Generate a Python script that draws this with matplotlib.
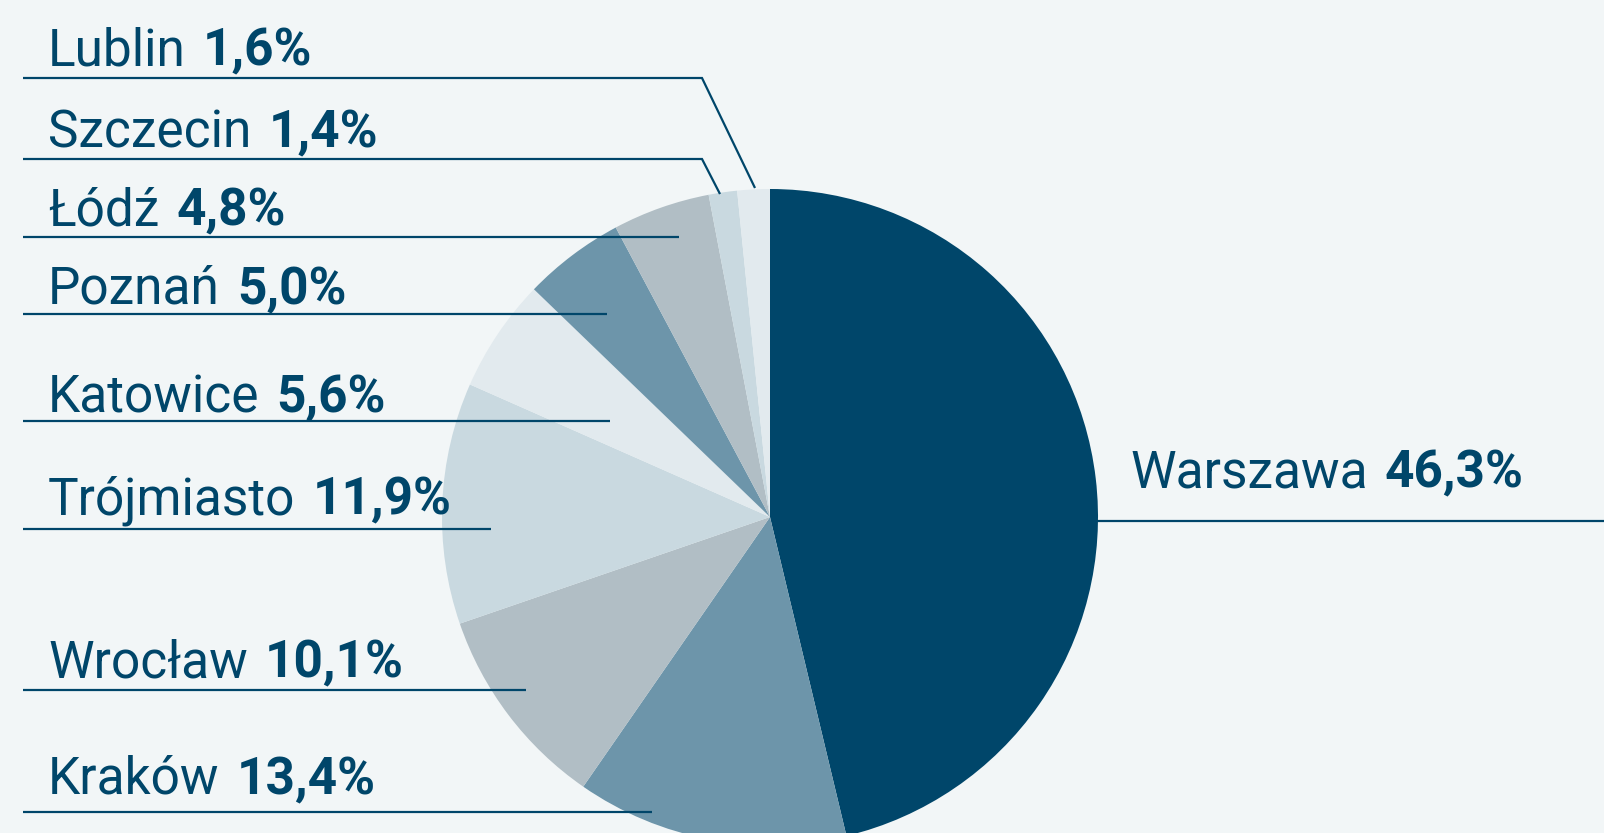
import matplotlib
matplotlib.use("Agg")
import matplotlib.pyplot as plt

cities = ["Warszawa", "Kraków", "Wrocław", "Trójmiasto", "Katowice", "Poznań", "Łódź", "Szczecin", "Lublin"]
shares = [46.3, 13.4, 10.1, 11.9, 5.6, 5.0, 4.8, 1.4, 1.6]
labels = ["46,3%", "13,4%", "10,1%", "11,9%", "5,6%", "5,0%", "4,8%", "1,4%", "1,6%"]
colors = ["#00466A", "#6D95AA", "#B1BEC5", "#C9D9E0", "#E2EAEE",
          "#6D95AA", "#B1BEC5", "#C9D9E0", "#E2EAEE"]

BG = "#F2F6F7"
INK = "#00466A"
W, H = 1604, 833

fig = plt.figure(figsize=(W / 100, H / 100), dpi=100, facecolor=BG)
ax = fig.add_axes([0, 0, 1, 1])
ax.set_facecolor(BG)

cx, cy, R = 770, 517, 328
ax.pie(shares, colors=colors, startangle=-90, counterclock=True,
       center=(cx, cy), radius=R, frame=True,
       wedgeprops=dict(linewidth=0))

ax.set_xlim(0, W)
ax.set_ylim(H, 0)
ax.set_aspect("equal")
ax.axis("off")

# label layout: (text x, baseline y, line y, line x0, line x1, diagonal end or None)
layout = {
    "Lublin":     (48, 65, 78, 23, 702, (755, 188)),
    "Szczecin":   (48, 147, 159, 23, 702, (720, 194)),
    "Łódź":       (48, 225, 237, 23, 679, None),
    "Poznań":     (48, 304, 314, 23, 607, None),
    "Katowice":   (48, 412, 421, 23, 610, None),
    "Trójmiasto": (48, 514, 529, 23, 491, None),
    "Wrocław":    (48, 677, 690, 23, 526, None),
    "Kraków":     (48, 794, 812, 23, 652, None),
    "Warszawa":   (1130, 487, 521, 1097, W, None),
}

fs = 37
fig.canvas.draw()
renderer = fig.canvas.get_renderer()
inv = ax.transData.inverted()

for city, lab in zip(cities, labels):
    tx, ty, ly, lx0, lx1, diag = layout[city]
    t = ax.text(tx, ty, city, fontsize=fs, family="Roboto", color=INK,
                va="baseline", ha="left")
    bb = t.get_window_extent(renderer=renderer)
    x_end = inv.transform((bb.x1, bb.y0))[0]
    ax.text(x_end + 17, ty, lab, fontsize=fs, family="Roboto", fontweight="bold",
            color=INK, va="baseline", ha="left")
    xs = [lx0, lx1]
    ys = [ly, ly]
    if diag is not None:
        xs.append(diag[0])
        ys.append(diag[1])
    ax.plot(xs, ys, color=INK, linewidth=1.6, solid_capstyle="butt",
            solid_joinstyle="miter")

fig.savefig("out.png", dpi=100, facecolor=BG)
